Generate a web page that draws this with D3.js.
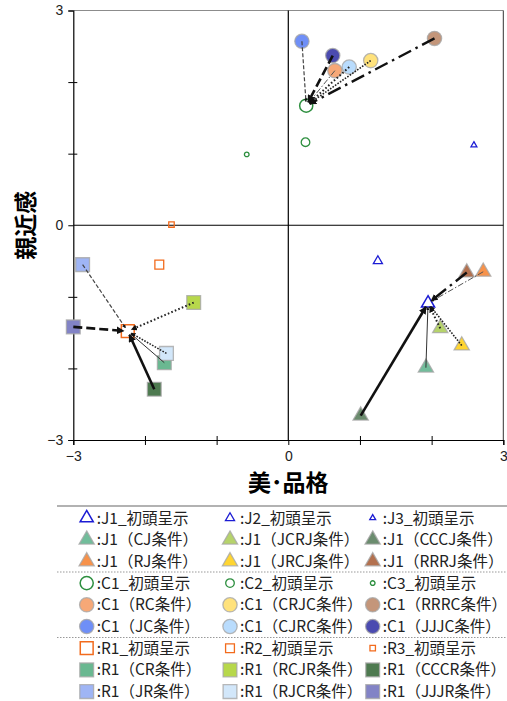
<!DOCTYPE html>
<html>
<head>
<meta charset="utf-8">
<script src="https://cdn.jsdelivr.net/npm/d3@7"></script>
<style>
  body { margin: 0; background: #fff; }
  svg { display: block; }
  .tick text { font-family: "Liberation Sans", Arial, sans-serif; font-size: 14px; fill: #222; }
  .lg text { font-family: "Noto Sans CJK JP", sans-serif; font-size: 15.5px; fill: #222; }
</style>
</head>
<body>
<div id="chart"></div>
<script>
// initial presentation points (1, 2, 3)
const jInitLabels = ["J1_初頭呈示", "J2_初頭呈示", "J3_初頭呈示"];
const jInitX = [1.95, 1.25, 2.59];
const jInitY = [-1.09, -0.50, 1.12];
const cInitLabels = ["C1_初頭呈示", "C2_初頭呈示", "C3_初頭呈示"];
const cInitX = [0.25, 0.24, -0.58];
const cInitY = [1.67, 1.16, 0.99];
const rInitLabels = ["R1_初頭呈示", "R2_初頭呈示", "R3_初頭呈示"];
const rInitX = [-2.24, -1.80, -1.63];
const rInitY = [-1.48, -0.55, 0.01];

// conditions (all start from the "1" initial point)
const jCondLabels = ["J1（CJ条件）", "J1（JCRJ条件）", "J1（CCCJ条件）", "J1（RJ条件）", "J1（JRCJ条件）", "J1（RRRJ条件）"];
const jCondX = [1.92, 2.12, 1.01, 2.72, 2.42, 2.49];
const jCondY = [-1.99, -1.44, -2.66, -0.65, -1.68, -0.66];
const cCondLabels = ["C1（RC条件）", "C1（CRJC条件）", "C1（RRRC条件）", "C1（JC条件）", "C1（CJRC条件）", "C1（JJJC条件）"];
const cCondX = [0.65, 1.15, 2.04, 0.19, 0.85, 0.62];
const cCondY = [2.16, 2.30, 2.61, 2.57, 2.21, 2.37];
const rCondLabels = ["R1（CR条件）", "R1（RCJR条件）", "R1（CCCR条件）", "R1（JR条件）", "R1（RJCR条件）", "R1（JJJR条件）"];
const rCondX = [-1.73, -1.32, -1.87, -2.87, -1.70, -3.00];
const rCondY = [-1.92, -1.08, -2.29, -0.55, -1.79, -1.42];

const xTickLabels = [-3, 0, 3];
const yTickLabels = [-3, 0, 3];

// styles
const lineStyles = {
    thinSolid: {w: 1, dash: null, c: "#333"},
    thickSolid: {w: 2.6, dash: null, c: "#111"},
    roundDot: {w: 2, dash: "1.6 2.2", c: "#222"},
    squareDot: {w: 1.6, dash: "1.6 1.4", c: "#222"},
    thinDash: {w: 1.2, dash: "4 2", c: "#444"},
    thickDash: {w: 2.6, dash: "9 4", c: "#111"},
    thinDashDot: {w: 1, dash: "6 2 1.5 2", c: "#555"},
    thickDashDot: {w: 2.4, dash: "14 5 2.5 5", c: "#111"}
};

const groups = [
    {shape: d3.symbolTriangle, initColor: "#1c1cd4", initSizes: [75, 36, 15], condSize: 100,
     initLabels: jInitLabels, initX: jInitX, initY: jInitY,
     labels: jCondLabels, xs: jCondX, ys: jCondY,
     colors: ["#72bd9b", "#b6d36b", "#6b8c6e", "#f7924a", "#ffd531", "#b3714f"],
     lines: ["thinSolid", "roundDot", "thickSolid", "thinDashDot", "squareDot", "thickDashDot"]},
    {shape: d3.symbolCircle, initColor: "#2d8f3f", initSizes: [135, 58, 17], condSize: 160,
     initLabels: cInitLabels, initX: cInitX, initY: cInitY,
     labels: cCondLabels, xs: cCondX, ys: cCondY,
     colors: ["#f6a877", "#ffe27c", "#c4967a", "#6f8ff7", "#b9dcfd", "#4b4bb0"],
     lines: ["thinDashDot", "squareDot", "thickDashDot", "thinDash", "roundDot", "thickDash"]},
    {shape: d3.symbolSquare, initColor: "#f26b1d", initSizes: [165, 78, 30], condSize: 190,
     initLabels: rInitLabels, initX: rInitX, initY: rInitY,
     labels: rCondLabels, xs: rCondX, ys: rCondY,
     colors: ["#6ab891", "#b7d84b", "#4e7a50", "#9fb5f5", "#d2e7fa", "#8283c6"],
     lines: ["thinSolid", "roundDot", "thickSolid", "thinDash", "squareDot", "thickDash"]}
];

const width = 507, height = 701;
const svg = d3.select("#chart").append("svg")
    .attr("width", width)
    .attr("height", height);

const x = d3.scaleLinear().domain([-3, 3]).range([73.3, 503.3]);
const y = d3.scaleLinear().domain([-3, 3]).range([440, 10.5]);

// small arrow head, scaled with the line width
svg.append("defs").append("marker")
    .attr("id", "arrow")
    .attr("viewBox", "0 0 10 10")
    .attr("refX", 9).attr("refY", 5)
    .attr("markerWidth", 3).attr("markerHeight", 3)
    .attr("orient", "auto")
    .append("path")
    .attr("d", "M0,0 L10,5 L0,10 Z")
    .attr("fill", "#111");

// frame
svg.append("line").attr("x1", x(-3)).attr("x2", x(3)).attr("y1", y(3)).attr("y2", y(3))
    .attr("stroke", "#8c8c8c").attr("stroke-width", 1.2);
svg.append("line").attr("x1", x(3)).attr("x2", x(3)).attr("y1", y(3)).attr("y2", y(-3))
    .attr("stroke", "#333").attr("stroke-width", 1);
svg.append("line").attr("x1", x(0)).attr("x2", x(0)).attr("y1", y(3)).attr("y2", y(-3))
    .attr("stroke", "#000").attr("stroke-width", 1.2);
svg.append("line").attr("x1", x(-3)).attr("x2", x(3)).attr("y1", y(0)).attr("y2", y(0))
    .attr("stroke", "#000").attr("stroke-width", 1.2);

// axes
const fmt = d => yTickLabels.includes(d) ? d3.format("d")(d) : "";
svg.append("g").attr("transform", `translate(${x(-3)},0)`)
    .call(d3.axisLeft(y).tickValues(d3.range(-3, 4)).tickSize(5).tickPadding(5).tickFormat(fmt));
svg.append("g").attr("transform", `translate(${x(-3)},0)`)
    .call(d3.axisRight(y).tickValues([-2, -1, 1, 2]).tickSize(4).tickFormat(""))
    .select(".domain").remove();
svg.append("g").attr("transform", `translate(0,${y(-3)})`)
    .call(d3.axisBottom(x).tickValues(d3.range(-3, 4)).tickSize(5).tickPadding(6)
        .tickFormat(d => xTickLabels.includes(d) ? d3.format("d")(d) : ""));
svg.append("g").attr("transform", `translate(0,${y(-3)})`)
    .call(d3.axisTop(x).tickValues([-2, -1, 1, 2]).tickSize(4).tickFormat(""))
    .select(".domain").remove();
svg.selectAll(".domain").attr("stroke", "#000").attr("stroke-width", 1.2);

// axis titles
svg.append("text")
    .attr("x", x(0)).attr("y", 491)
    .attr("text-anchor", "middle")
    .attr("font-family", "Noto Sans CJK JP, sans-serif")
    .attr("font-size", 23).attr("font-weight", "bold")
    .text("美･品格");
svg.append("text")
    .attr("transform", `translate(34,${y(0)}) rotate(-90)`)
    .attr("text-anchor", "middle")
    .attr("font-family", "Noto Sans CJK JP, sans-serif")
    .attr("font-size", 23).attr("font-weight", "bold")
    .text("親近感");

const plot = svg.append("g");

function drawCond(g, grp, i, px, py) {
    g.append("path")
        .attr("d", d3.symbol().type(grp.shape).size(grp.condSize)())
        .attr("transform", `translate(${px},${py})`)
        .attr("fill", grp.colors[i])
        .attr("stroke", "#a6a6a6").attr("stroke-opacity", 0.8).attr("stroke-width", 1.3);
}
function drawInit(g, grp, k, px, py) {
    g.append("path")
        .attr("d", d3.symbol().type(grp.shape).size(grp.initSizes[k])())
        .attr("transform", `translate(${px},${py})`)
        .attr("fill", "none")
        .attr("stroke", grp.initColor).attr("stroke-width", k === 0 ? 1.5 : 1.3);
}

groups.forEach(grp => {
    grp.initX.forEach((v, k) => drawInit(plot, grp, k, x(v), y(grp.initY[k])));
    grp.xs.forEach((v, i) => drawCond(plot, grp, i, x(v), y(grp.ys[i])));
});

// lines from each condition to its initial point, arrow at the initial end
groups.forEach(grp => {
    const x0 = x(grp.initX[0]), y0 = y(grp.initY[0]);
    grp.xs.forEach((v, i) => {
        const x1 = x(v), y1 = y(grp.ys[i]);
        const len = Math.hypot(x0 - x1, y0 - y1);
        const t = (len - 4) / len;
        const st = lineStyles[grp.lines[i]];
        plot.append("line")
            .attr("x1", x1).attr("y1", y1)
            .attr("x2", x1 + (x0 - x1) * t).attr("y2", y1 + (y0 - y1) * t)
            .attr("stroke", st.c)
            .attr("stroke-width", st.w)
            .attr("stroke-dasharray", st.dash)
            .attr("marker-end", "url(#arrow)");
    });
});

// legend
const lg = svg.append("g").attr("class", "lg");
lg.append("line").attr("x1", 57).attr("x2", 507).attr("y1", 506).attr("y2", 506)
    .attr("stroke", "#999").attr("stroke-width", 1.5);
[572, 637.5].forEach(sy => {
    lg.append("line").attr("x1", 57).attr("x2", 507).attr("y1", sy).attr("y2", sy)
        .attr("stroke", "#999").attr("stroke-width", 1.2).attr("stroke-dasharray", "1.5 1.5");
});
const colX = [86.7, 230, 372.7];
const rowY = d3.range(9).map(r => 518 + r * 21.7);
groups.forEach((grp, gi) => {
    grp.initLabels.forEach((lab, k) => {
        const py = rowY[gi * 3];
        drawInit(lg, grp, k, colX[k], py);
        lg.append("text").attr("x", colX[k] + 10).attr("y", py).attr("dy", "0.36em").text(":" + lab);
    });
    grp.labels.forEach((lab, i) => {
        const py = rowY[gi * 3 + 1 + Math.floor(i / 3)];
        const px = colX[i % 3];
        drawCond(lg, grp, i, px, py);
        lg.append("text").attr("x", px + 10).attr("y", py).attr("dy", "0.36em").text(":" + lab);
    });
});
</script>
</body>
</html>
